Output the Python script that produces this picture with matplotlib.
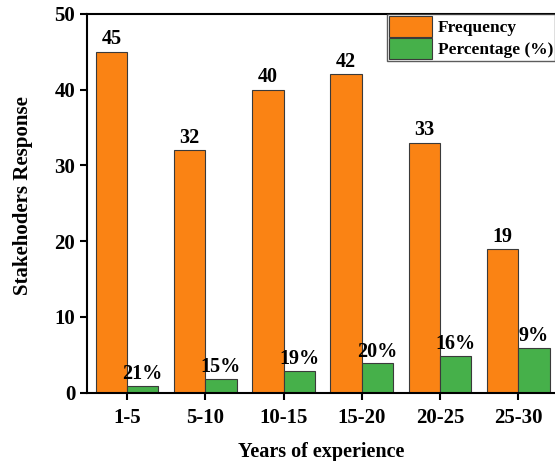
import matplotlib.pyplot as plt
import numpy as np

plt.rcParams['font.family'] = ['Liberation Serif', 'DejaVu Serif']
plt.rcParams['font.weight'] = 'bold'

# donnees
groupes = ['1-5', '5-10', '10-15', '15-20', '20-25', '25-30']
frequence = [45, 32, 40, 42, 33, 19]
hauteur_pct = [0.9, 1.85, 2.9, 3.9, 4.85, 5.95]
etiquettes_pct = ['21%', '15%', '19%', '20%', '16%', '9%']

x = np.arange(1, len(groupes) + 1)
w = 0.4

fig = plt.figure(figsize=(5.55, 4.61), dpi=100)
ax = fig.add_axes([0.157, 0.148, 0.843, 0.822])

b1 = ax.bar(x - w/2, frequence, w, color='#FA8314', edgecolor='#3a3a3a', lw=0.8, label='Frequency')
b2 = ax.bar(x + w/2, hauteur_pct, w, color='#46B04A', edgecolor='#3a3a3a', lw=0.8, label='Percentage (%)')

for r, v in zip(b1, frequence):
    ax.text(r.get_x() + r.get_width()/2, r.get_height() + 0.3, str(v),
            ha='center', va='bottom', fontsize=14.5, fontweight='bold')
for r, t in zip(b2, etiquettes_pct):
    ax.text(r.get_x() + r.get_width()/2, r.get_height() + 0.2, t,
            ha='center', va='bottom', fontsize=14.5, fontweight='bold')

ax.set_xlim(0.49, 6.47)
ax.set_ylim(0, 50)
ax.set_xticks(x)
ax.set_xticklabels(groupes)
ax.set_yticks(np.arange(0, 51, 10))
ax.tick_params(direction='out', length=5, width=1.5, labelsize=15)
ax.tick_params(axis='x', pad=6)
for lab in ax.get_xticklabels() + ax.get_yticklabels():
    lab.set_fontweight('bold')

for s in ['left', 'bottom', 'top']:
    ax.spines[s].set_linewidth(1.5)
ax.spines['right'].set_visible(False)

ax.set_xlabel('Years of experience', fontsize=14.5, fontweight='bold', labelpad=10)
ax.set_ylabel('Stakehoders Response', fontsize=15, fontweight='bold')
ax.yaxis.set_label_coords(-0.115, 0.52)

leg = ax.legend(loc='upper right', borderaxespad=0, prop={'weight': 'bold', 'size': 12.5},
                fancybox=False, handlelength=2.5, handleheight=1.45, handletextpad=0.3,
                borderpad=0.12, labelspacing=0.1)
leg.get_frame().set_edgecolor('#333333')
leg.get_frame().set_linewidth(1.0)

fig.savefig('out.png', dpi=100)
